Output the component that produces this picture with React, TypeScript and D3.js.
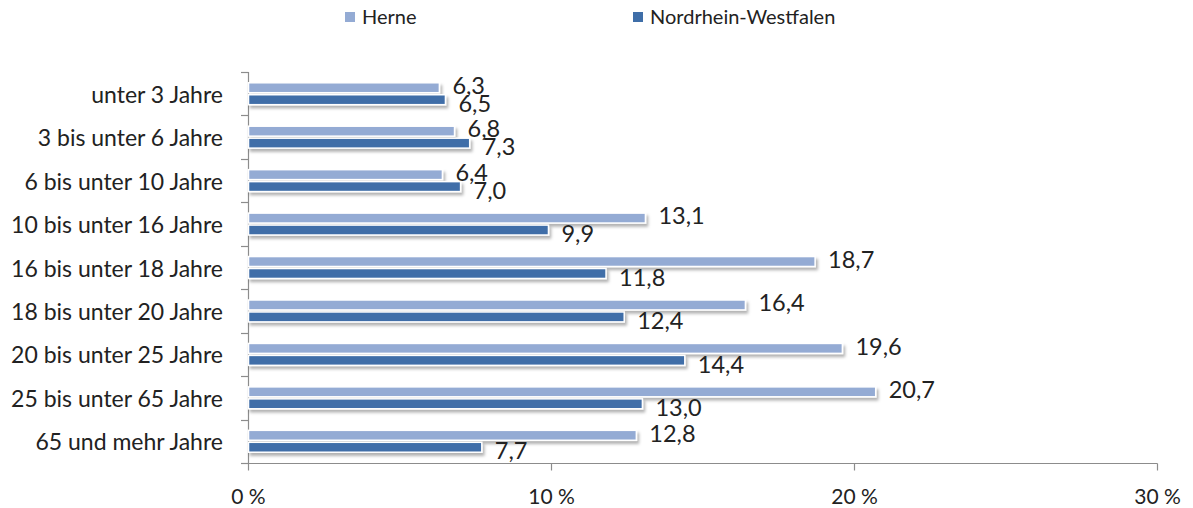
import React from "react";
import * as d3 from "d3";

const categories = [
  "unter 3 Jahre",
  "3 bis unter 6 Jahre",
  "6 bis unter 10 Jahre",
  "10 bis unter 16 Jahre",
  "16 bis unter 18 Jahre",
  "18 bis unter 20 Jahre",
  "20 bis unter 25 Jahre",
  "25 bis unter 65 Jahre",
  "65 und mehr Jahre",
];
const herne = [6.3, 6.8, 6.4, 13.1, 18.7, 16.4, 19.6, 20.7, 12.8];
const nrw = [6.5, 7.3, 7.0, 9.9, 11.8, 12.4, 14.4, 13.0, 7.7];
const xTicks = [0, 10, 20, 30];
const seriesNames = ["Herne", "Nordrhein-Westfalen"];
const colors = ["#94ABD4", "#3F6EA8"];

const W = 1193;
const H = 508;
const FONT = "Lato, 'Liberation Sans', sans-serif";
const fmt = (v: number) => v.toFixed(1).replace(".", ",");

export default function App() {
  const x = d3.scaleLinear().domain([0, 30]).range([248.5, 1157.5]);
  const y = d3.scaleBand<string>().domain(categories).range([72, 463]);
  const sub = d3
    .scaleBand<string>()
    .domain(seriesNames)
    .range([0, y.bandwidth()])
    .paddingInner(0.17)
    .paddingOuter(0.9);
  const series = [herne, nrw];
  const axisY = 463.5;

  return (
    <svg
      width={W}
      height={H}
      style={{ position: "absolute", left: 0, top: 0, background: "#fff" }}
      fontFamily={FONT}
    >
      <defs>
        <filter id="shadow" x="-5%" y="-50%" width="110%" height="250%">
          <feDropShadow dx="2" dy="3" stdDeviation="1.5" floodColor="#000" floodOpacity="0.3" />
        </filter>
      </defs>

      {/* legend */}
      {seriesNames.map((name, i) => {
        const lx = i === 0 ? 345 : 633;
        return (
          <g key={name}>
            <rect x={lx} y={12} width={10} height={10} fill={colors[i]} />
            <text x={lx + 17} y={17} dy="0.35em" fontSize={20} fill="#222">
              {name}
            </text>
          </g>
        );
      })}

      {/* axes */}
      <g stroke="#8c8c8c" strokeWidth={1.2} fill="none">
        <line x1={x(0)} x2={x(0)} y1={72} y2={axisY} />
        <line x1={241} x2={x(30)} y1={axisY} y2={axisY} />
        {[...categories.map((c) => y(c)!), 463].map((v, i) => (
          <line key={i} x1={241} x2={x(0)} y1={Math.round(v) + 0.5} y2={Math.round(v) + 0.5} />
        ))}
        {xTicks.map((t) => (
          <line key={t} x1={x(t)} x2={x(t)} y1={axisY} y2={axisY + 7} />
        ))}
      </g>

      {/* y labels */}
      {categories.map((c) => (
        <text
          key={c}
          x={223}
          y={y(c)! + y.bandwidth() / 2 + 1}
          dy="0.35em"
          textAnchor="end"
          fontSize={23}
          fill="#222"
        >
          {c}
        </text>
      ))}

      {/* x labels */}
      {xTicks.map((t) => (
        <text key={t} x={x(t)} y={497} dy="0.35em" textAnchor="middle" fontSize={21} fill="#222">
          {`${t} %`}
        </text>
      ))}

      {/* bars */}
      {series.map((vals, si) =>
        vals.map((v, ci) => {
          const by = y(categories[ci])! + sub(seriesNames[si])!;
          return (
            <rect
              key={`${si}-${ci}`}
              x={x(0)}
              y={by}
              width={x(v) - x(0)}
              height={sub.bandwidth()}
              fill={colors[si]}
              stroke="#fff"
              strokeWidth={1.5}
              filter="url(#shadow)"
            />
          );
        })
      )}

      {/* value labels */}
      {series.map((vals, si) =>
        vals.map((v, ci) => {
          const by = y(categories[ci])! + sub(seriesNames[si])! + sub.bandwidth() / 2;
          return (
            <text
              key={`l-${si}-${ci}`}
              x={x(v) + 13}
              y={by + (si === 0 ? -2 : 4)}
              dy="0.35em"
              fontSize={23.5}
              fill="#222"
            >
              {fmt(v)}
            </text>
          );
        })
      )}
    </svg>
  );
}
